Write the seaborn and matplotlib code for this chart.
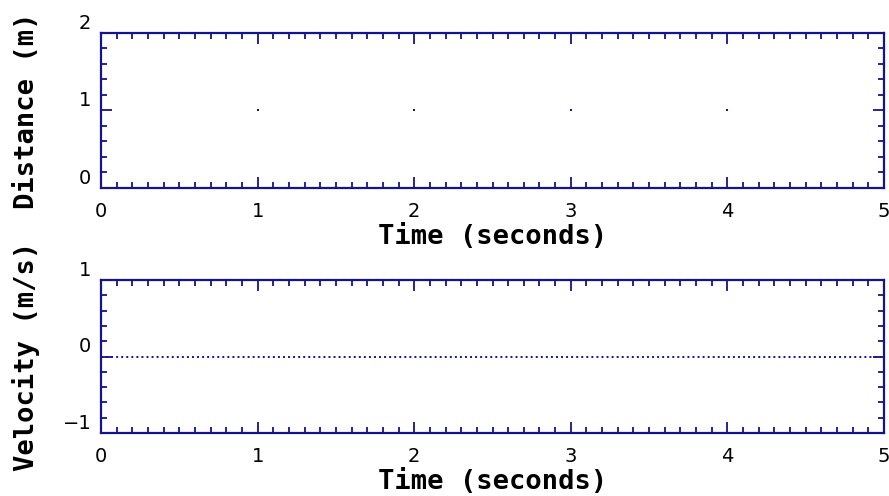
import matplotlib
matplotlib.use("Agg")
import matplotlib.pyplot as plt
from matplotlib.transforms import ScaledTranslation
from matplotlib.ticker import MultipleLocator
import seaborn as sns
import pandas as pd

# Sampled distance readings
dist_time = [1, 2, 3, 4]
distance = [1, 1, 1, 1]

# Velocity trace
vel_time = [0, 1, 2, 3, 4, 5]
velocity = [0, 0, 0, 0, 0, 0]

x_ticks = [0, 1, 2, 3, 4, 5]
dist_ticks = [0, 1, 2]
vel_ticks = [-1, 0, 1]

sns.set_theme(style="white")
plt.rcParams["font.family"] = ["DejaVu Sans"]
plt.rcParams["xtick.direction"] = "in"
plt.rcParams["ytick.direction"] = "in"
plt.rcParams["text.color"] = "black"
plt.rcParams["axes.labelcolor"] = "black"

NAVY = "#14148c"
LABEL_FONT = dict(family="DejaVu Sans Mono", weight="bold", size=19.5,
                  color="black")

fig = plt.figure(figsize=(8.89, 4.96), dpi=100)
ax1 = fig.add_axes([0.1136, 0.6210, 0.8808, 0.3125])
ax2 = fig.add_axes([0.1136, 0.1270, 0.8808, 0.3085])

dist_df = pd.DataFrame({"t": dist_time, "d": distance})
vel_df = pd.DataFrame({"t": vel_time, "v": velocity})

sns.scatterplot(data=dist_df, x="t", y="d", ax=ax1, color=NAVY, s=2.5,
                marker="s", linewidth=0, legend=False)
sns.lineplot(data=vel_df, x="t", y="v", ax=ax2, color=NAVY, linewidth=1.4,
             linestyle=(0, (1, 1.6)), legend=False)
ax2.get_lines()[0].set_dash_capstyle("butt")


def style_axes(ax, ylim, yticks, ylabel):
    ax.set_xlim(0, 5)
    ax.set_ylim(*ylim)
    ax.set_xticks(x_ticks)
    ax.set_yticks(yticks)
    ax.xaxis.set_minor_locator(MultipleLocator(0.1))
    ax.yaxis.set_minor_locator(MultipleLocator(0.2))
    for sp in ax.spines.values():
        sp.set_color(NAVY)
        sp.set_linewidth(1.6)
    ax.tick_params(which="both", direction="in", top=True, right=True,
                   bottom=True, left=True, color=NAVY, width=1.3,
                   labelcolor="black", labelsize=14)
    ax.tick_params(which="major", length=8)
    ax.tick_params(which="minor", length=4)
    ax.tick_params(axis="x", which="major", pad=10)
    ax.tick_params(axis="y", which="major", pad=7)
    ax.set_xlabel("Time (seconds)", fontdict=LABEL_FONT)
    ax.set_ylabel(ylabel, fontdict=LABEL_FONT)
    ax.xaxis.set_label_coords(0.5, -0.232)
    ax.yaxis.set_label_coords(-0.078, 0.5)
    shift = ScaledTranslation(0, 8.5 / 72, fig.dpi_scale_trans)
    for lab in ax.get_yticklabels():
        lab.set_transform(lab.get_transform() + shift)


style_axes(ax1, (0, 2), dist_ticks, "Distance (m)")
style_axes(ax2, (-1, 1), vel_ticks, "Velocity (m/s)")

fig.savefig("out.png", dpi=100)
